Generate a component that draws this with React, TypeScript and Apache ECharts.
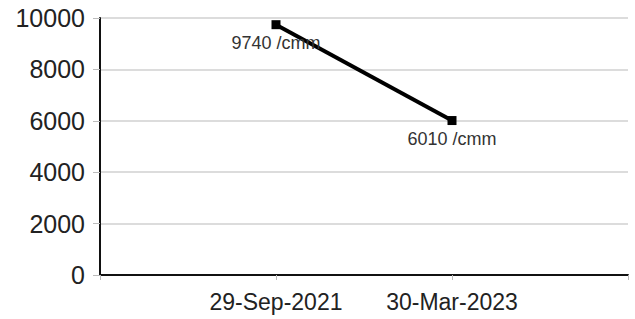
import React, { useEffect, useRef } from "react";
import * as echarts from "echarts";

const categories = ["", "29-Sep-2021", "30-Mar-2023", ""];
const values: (number | null)[] = [null, 9740, 6010, null];
const unit = " /cmm";
const yMin = 0;
const yMax = 10000;
const yInterval = 2000;

export default function App() {
  const ref = useRef<HTMLDivElement>(null);
  useEffect(() => {
    if (!ref.current) return;
    const chart = echarts.init(ref.current, null, { renderer: "svg" });
    chart.setOption({
      animation: false,
      backgroundColor: "#fff",
      grid: { left: 100, right: 7, top: 18, bottom: 44, containLabel: false },
      xAxis: {
        type: "category",
        data: categories,
        boundaryGap: false,
        axisLine: { lineStyle: { color: "#111", width: 2 } },
        axisTick: { show: true, length: 5, lineStyle: { color: "#bbb", width: 1 } },
        axisLabel: {
          color: "#222",
          fontFamily: "Liberation Sans, Arial, sans-serif",
          fontSize: 23,
          margin: 15,
          interval: 0,
        },
        splitLine: { show: false },
      },
      yAxis: {
        type: "value",
        min: yMin,
        max: yMax,
        interval: yInterval,
        axisLine: { show: true, lineStyle: { color: "#111", width: 2 } },
        axisTick: { show: true, length: 7, lineStyle: { color: "#bbb", width: 1 } },
        axisLabel: {
          color: "#222",
          fontFamily: "Liberation Sans, Arial, sans-serif",
          fontSize: 25,
          margin: 15,
          formatter: (v: number) => String(v),
        },
        splitLine: { show: true, lineStyle: { color: "#dcdcdc", width: 2 } },
      },
      series: [
        {
          type: "line",
          data: values,
          connectNulls: false,
          symbol: "rect",
          symbolSize: 9,
          itemStyle: { color: "#000" },
          lineStyle: { color: "#000", width: 4 },
          label: {
            show: true,
            position: "bottom",
            distance: 5,
            color: "#333",
            fontFamily: "Liberation Sans, Arial, sans-serif",
            fontSize: 18,
            formatter: (p: any) => `${p.value}${unit}`,
          },
        },
      ],
    });
    return () => chart.dispose();
  }, []);
  return <div ref={ref} style={{ width: 635, height: 319, position: "absolute", left: 0, top: 0 }} />;
}
